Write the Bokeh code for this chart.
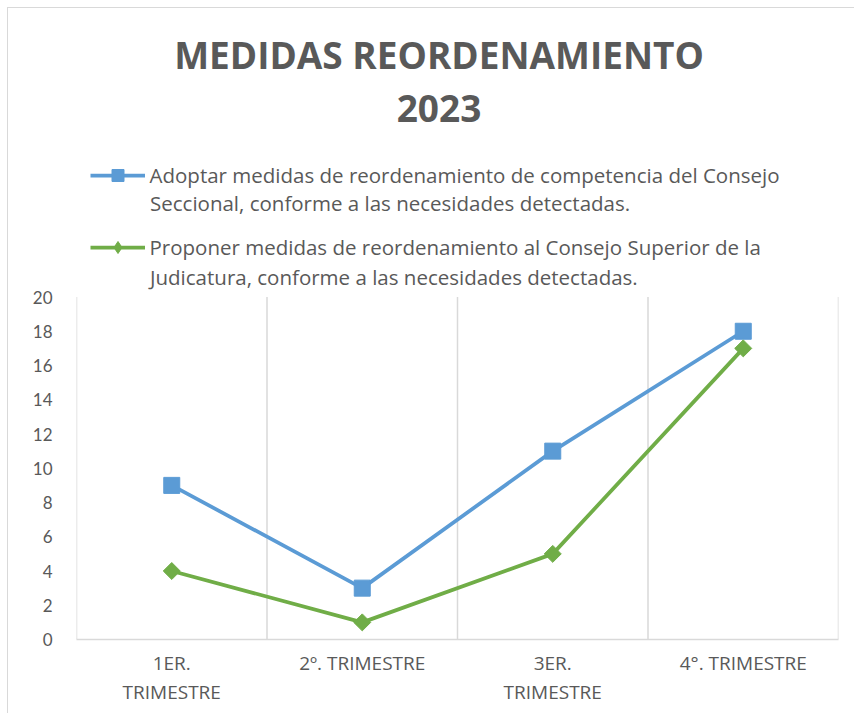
import math
from bokeh.plotting import figure
from bokeh.models import FixedTicker, Legend, LegendItem, Label
from bokeh.embed import file_html
from bokeh.resources import INLINE

title_lines = ["MEDIDAS REORDENAMIENTO", "2023"]
tick_labels = ["1ER.\nTRIMESTRE", "2º. TRIMESTRE", "3ER.\nTRIMESTRE", "4°. TRIMESTRE"]
series_line1 = [
    "Adoptar medidas de reordenamiento de competencia del Consejo",
    "Proponer medidas de reordenamiento al Consejo Superior de la",
]
series_line2 = [
    "Seccional, conforme a las necesidades detectadas.",
    "Judicatura, conforme a las necesidades detectadas.",
]
adoptar = [9, 3, 11, 18]
proponer = [4, 1, 5, 17]
y_ticks = [0, 2, 4, 6, 8, 10, 12, 14, 16, 18, 20]

GRAY = "#595959"
LG = "#d9d9d9"
BLUE = "#5B9BD5"
GREEN = "#70AD47"
FONT = "Open Sans"

# ---- canvas geometry (pixels) ----
W, H = 847, 706
B_LEFT, B_RIGHT, B_TOP, B_BOTTOM = 68, 17, 0, 75
FRAME_W = W - B_LEFT - B_RIGHT
FRAME_H = H - B_TOP - B_BOTTOM
AXIS_TOP_PX = 288.5            # canvas y of the top value (20)
n_cat = len(tick_labels)
y_max = y_ticks[-1]
unit = (FRAME_H - AXIS_TOP_PX) / y_max      # pixels per value unit
y_top = FRAME_H / unit


def dx(cx):   # canvas x pixel -> data x
    return (cx - B_LEFT) / (FRAME_W / n_cat)


def dy(cy):   # canvas y pixel -> data y
    return (FRAME_H - cy) / unit


p = figure(width=W, height=H, output_backend="svg", toolbar_location=None,
           x_range=(0, n_cat), y_range=(0, y_top),
           min_border_left=B_LEFT, min_border_right=B_RIGHT,
           min_border_top=B_TOP, min_border_bottom=B_BOTTOM)
p.outline_line_color = None
p.grid.visible = False
p.styles = {"margin-left": "7px", "margin-top": "7px",
            "border-left": "1.5px solid #d9d9d9", "border-top": "1.5px solid #d9d9d9"}

xs = [i + 0.5 for i in range(n_cat)]
bounds = list(range(n_cat + 1))

# vertical category gridlines
p.segment(x0=bounds, y0=[0] * len(bounds), x1=bounds, y1=[y_max] * len(bounds),
          line_color=LG, line_width=1.5)

p.xaxis.ticker = FixedTicker(ticks=xs)
p.xaxis.major_label_overrides = {x: t for x, t in zip(xs, tick_labels)}
p.xaxis.major_label_text_font = FONT
p.xaxis.major_label_text_font_size = "19px"
p.xaxis.major_label_text_color = GRAY
p.xaxis.major_label_text_line_height = 1.15
p.xaxis.major_label_standoff = 10
p.xaxis.axis_line_color = LG
p.xaxis.axis_line_width = 1.5
p.xaxis.major_tick_line_color = None
p.xaxis.major_tick_out = 0
p.xaxis.minor_tick_line_color = None

p.yaxis.ticker = FixedTicker(ticks=y_ticks)
p.yaxis.major_label_text_font = "Lato"
p.yaxis.major_label_text_font_size = "17px"
p.yaxis.major_label_text_color = GRAY
p.yaxis.major_label_standoff = 24
p.yaxis.major_tick_out = 0
p.yaxis.axis_line_color = None
p.yaxis.major_tick_line_color = None
p.yaxis.minor_tick_line_color = None

p.line(xs, adoptar, line_color=BLUE, line_width=3.75)
p.scatter(xs, adoptar, marker="square", size=16, fill_color=BLUE, line_color=BLUE)
p.line(xs, proponer, line_color=GREEN, line_width=3.75)
p.scatter(xs, proponer, marker="square", angle=math.pi / 4, size=12,
          fill_color=GREEN, line_color=GREEN)

# legend keys (empty-valued renderers that only provide the key style)
nan = [math.nan]
kl1 = p.line(x=nan, y=nan, line_color=BLUE, line_width=3.75)
ks1 = p.scatter(x=nan, y=nan, marker="square", size=15, fill_color=BLUE, line_color=BLUE)
kl2 = p.line(x=nan, y=nan, line_color=GREEN, line_width=3.75)
ks2 = p.scatter(x=nan, y=nan, marker="diamond", size=19, fill_color=GREEN, line_color=GREEN)

LEG_TOP = 151.5
ITEM_H = 30
GAP = 42
legend = Legend(items=[LegendItem(label=series_line1[0], renderers=[kl1, ks1]),
                       LegendItem(label=series_line1[1], renderers=[kl2, ks2])],
                location=(81.5 - B_LEFT, FRAME_H - (LEG_TOP + 2 * ITEM_H + GAP)),
                orientation="vertical",
                glyph_width=55, glyph_height=ITEM_H, label_height=ITEM_H,
                label_standoff=5, spacing=GAP,
                padding=0, margin=0, border_line_color=None, background_fill_alpha=0,
                label_text_font=FONT, label_text_font_size="20.5px",
                label_text_color=GRAY)
p.add_layout(legend, "center")

for t, cy in zip(series_line2, [194.5, 268.5]):
    p.add_layout(Label(x=dx(141.5), y=dy(cy), text=t, text_align="left",
                       text_baseline="alphabetic",
                       text_font=FONT, text_font_size="20.5px", text_color=GRAY))

for t, cy in zip(title_lines, [45.5, 99.5]):
    p.add_layout(Label(x=dx(430.5), y=dy(cy), text=t, text_align="center",
                       text_baseline="alphabetic",
                       text_font=FONT, text_font_style="bold",
                       text_font_size="37px", text_color=GRAY))

open("out.html", "w").write(file_html(p, INLINE))
